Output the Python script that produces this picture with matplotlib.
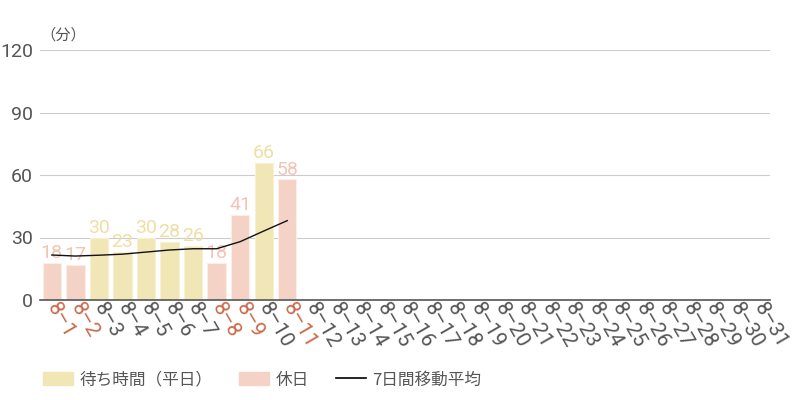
import numpy as np
import matplotlib
matplotlib.use("Agg")
import matplotlib.pyplot as plt
from matplotlib.patches import Patch
from matplotlib.lines import Line2D

plt.rcParams['font.family'] = ['Roboto', 'Noto Sans CJK JP', 'DejaVu Sans']

# データ（8月の待ち時間）
days = ["8-%d" % d for d in range(1, 32)]
wait = [18, 17, 30, 23, 30, 28, 26, 18, 41, 66, 58]
holiday = ["8-1", "8-2", "8-8", "8-9", "8-11"]
moving_avg = [21.6, 21.1, 21.5, 22.0, 23.0, 24.0, 24.6, 24.6, 28.0, 33.1, 38.1]

c_week = "#f1e6b6"
c_hol = "#f5d2c6"
c_week_txt = "#efdfa4"
c_hol_txt = "#f2c4b4"
c_hol_tick = "#c96a4a"
c_text = "#555555"

fig = plt.figure(figsize=(8, 4), dpi=100)
ax = fig.add_axes([0.05, 0.25, 0.9125, 0.625])

x = np.arange(len(days))
for i, v in enumerate(wait):
    is_hol = days[i] in holiday
    ax.bar(i, v, width=0.78, color=c_hol if is_hol else c_week,
           edgecolor="#fbeee8" if is_hol else "#f7f0d2", linewidth=0.8, zorder=2)
    ax.text(i, v + 0.3, str(v), ha="center", va="bottom", fontsize=14,
            color=c_hol_txt if is_hol else c_week_txt, zorder=3)

ax.plot(x[:len(moving_avg)], moving_avg, color="#111111", linewidth=1.0, zorder=4)

ax.set_xlim(-0.5, len(days) - 0.5)
ax.set_ylim(0, 120)
ax.set_yticks([0, 30, 60, 90, 120])
ax.grid(axis="y", color="#cccccc", linewidth=0.8, zorder=0)
ax.set_axisbelow(True)
for s in ["top", "right", "left"]:
    ax.spines[s].set_visible(False)
ax.spines["bottom"].set_color("#555555")
ax.spines["bottom"].set_linewidth(1.2)
ax.tick_params(axis="y", length=0, labelsize=14, labelcolor=c_text, pad=5)
ax.tick_params(axis="x", length=0, pad=3)

ax.set_xticks(x)
ax.set_xticklabels([d.replace("-", "–") for d in days], rotation=-60, ha="left",
                   va="center", rotation_mode="anchor", fontsize=15)
for lbl, d in zip(ax.get_xticklabels(), days):
    lbl.set_color(c_hol_tick if d in holiday else c_text)

ax.text(-0.5, 123, "（分）", fontsize=11, color=c_text, ha="left", va="bottom",
        family=['Noto Sans CJK JP', 'DejaVu Sans'])

handles = [Patch(color=c_week), Patch(color=c_hol),
           Line2D([0], [0], color="black", linewidth=1.2)]
labels = ["待ち時間（平日）", "休日", "7日間移動平均"]
leg = fig.legend(handles, labels, loc="center left", bbox_to_anchor=(0.035, 0.05),
                 ncol=3, frameon=False, handlelength=1.8,
                 handleheight=0.8, columnspacing=1.6, handletextpad=0.4,
                 prop={'family': ['Noto Sans CJK JP', 'DejaVu Sans'], 'size': 12})
for t in leg.get_texts():
    t.set_color(c_text)

fig.savefig("out.png", dpi=100)
